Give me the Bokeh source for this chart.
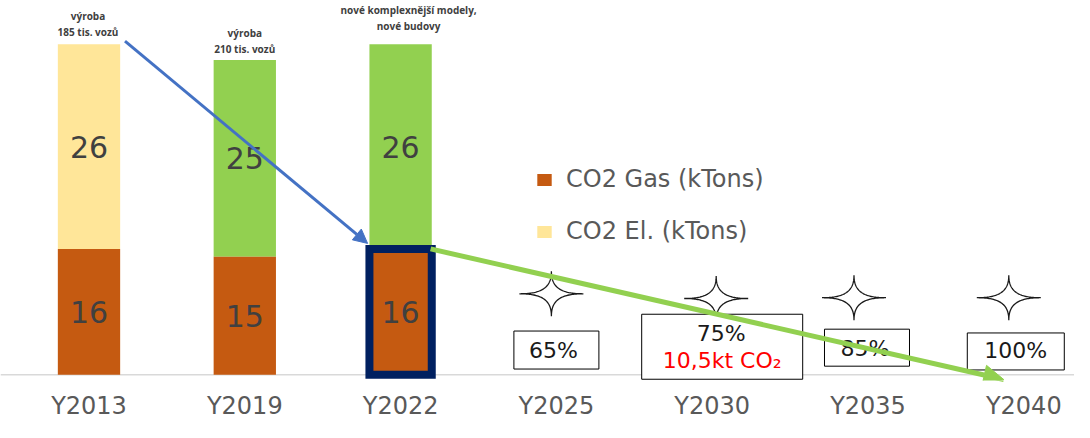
import numpy as np
from bokeh.plotting import figure
from bokeh.models import (Range1d, FixedTicker, ColumnDataSource, Legend, LegendItem,
                          Arrow, NormalHead, Span)
from bokeh.core.properties import value
from bokeh.embed import file_html
from bokeh.resources import INLINE

# ---------------- data ----------------
categories = ["Y2013", "Y2019", "Y2022", "Y2025", "Y2030", "Y2035", "Y2040"]
bar_years = ["Y2013", "Y2019", "Y2022"]
co2_gas = [16, 15, 16]
co2_el = [26, 25, 26]
el_colors = ["#FFE699", "#92D050", "#92D050"]
bar_notes = ["výroba\n185 tis. vozů", "výroba\n210 tis. vozů",
             "nové komplexnější modely,\nnové budovy"]
target_years = ["Y2025", "Y2030", "Y2035", "Y2040"]
target_pct = ["65%", "75%", "85%", "100%"]
target_2030_co2 = "10,5kt CO₂"
highlight_year = "Y2022"

# ---------------- geometry helpers ----------------
W, H = 1074, 422
BOTTOM = 41
FRAME_H = H - BOTTOM
PX_X = 155.8          # pixels per category step
PX_Y = 7.89           # pixels per kt
X0 = -0.568
Y0 = -0.72
x_range = Range1d(X0, X0 + W / PX_X)
y_range = Range1d(Y0, Y0 + FRAME_H / PX_Y)

def dx(px):
    return px / PX_X

def dy(px):
    return px / PX_Y

p = figure(width=W, height=H, x_range=x_range, y_range=y_range,
           output_backend="svg", toolbar_location=None, y_axis_location=None,
           min_border_left=0, min_border_right=0, min_border_top=0,
           min_border_bottom=BOTTOM, outline_line_color=None,
           background_fill_color="white", border_fill_color="white")
p.xgrid.visible = False
p.ygrid.visible = False

FONT_NAME = "DejaVu Sans"
FONT = value(FONT_NAME)

# baseline
p.add_layout(Span(location=0, dimension="width", line_color="#D9D9D9",
                  line_width=1.5, level="underlay"))

# ---------------- bars ----------------
bx = [categories.index(c) for c in bar_years]
totals = [g + e for g, e in zip(co2_gas, co2_el)]
src = ColumnDataSource(dict(
    x=bx, gas=co2_gas, el=co2_el, total=totals, el_color=el_colors,
    gas_mid=[g / 2 for g in co2_gas],
    el_mid=[g + e / 2 for g, e in zip(co2_gas, co2_el)],
    gas_txt=[str(g) for g in co2_gas], el_txt=[str(e) for e in co2_el],
    note=bar_notes,
    note_dx=[-1, 0, 8], note_dy=[-5, -4, -11],
))

el_r = p.vbar(x="x", width=0.4, bottom="gas", top="total", source=src,
              fill_color="el_color", line_color=None)
gas_r = p.vbar(x="x", width=0.4, bottom=0, top="gas", source=src,
               fill_color="#C55A11", line_color=None)

hi = bar_years.index(highlight_year)
p.vbar(x=[bx[hi]], width=0.4, bottom=[0], top=[co2_gas[hi]],
       fill_alpha=0, line_color="#002060", line_width=8, line_join="miter")

p.text(x="x", y="gas_mid", text="gas_txt", source=src, text_align="center",
       text_baseline="middle", text_font=FONT, text_font_size="30px",
       text_color="#404040")
p.text(x="x", y="el_mid", text="el_txt", source=src, text_align="center",
       text_baseline="middle", text_font=FONT, text_font_size="30px",
       text_color="#404040")
p.text(x="x", y="total", text="note", source=src, x_offset="note_dx",
       y_offset="note_dy", text_align="center", text_baseline="bottom",
       text_font=value("Open Sans"), text_font_style="bold",
       text_font_size="10px", text_color="#404040", text_line_height=1.15)

# ---------------- targets (stars + boxes) ----------------
tx = [categories.index(c) for c in target_years]
star_off = [(-5, 10.3), (4, 9.7), (-14, 9.8), (-15, 9.8)]

def star(cx, cy, rx, ry, n=60):
    t = np.linspace(0, 2 * np.pi, 4 * n, endpoint=False)
    c, s = np.cos(t), np.sin(t)
    e = 4.2
    xs = cx + dx(rx * np.sign(c) * np.abs(c) ** e)
    ys = cy + dy(ry * np.sign(s) * np.abs(s) ** e)
    return list(xs), list(ys)

sxs, sys_ = [], []
for x, (ox, oy) in zip(tx, star_off):
    a, b = star(x + dx(ox), oy, 32, 22.5)
    sxs.append(a)
    sys_.append(b)
p.patches(sxs, sys_, fill_color="white", line_color="#1a1a1a", line_width=1.3)

# boxes: (x offset px, y center kt, width px, height px)
box_geo = [(0, 3.15, 85, 38), (10, 3.57, 161, 65), (-1, 3.45, 85, 37), (-8, 2.97, 97, 37)]
p.rect(x=[x + dx(g[0]) for x, g in zip(tx, box_geo)], y=[g[1] for g in box_geo],
       width=[g[2] for g in box_geo], height=[g[3] for g in box_geo],
       width_units="screen", height_units="screen",
       fill_color="white", line_color="black", line_width=1)

pct_y = [3.15, 5.2, 3.39, 3.03]
pct_dx = [-3, 9, -3, -8]
p.text(x=[x + dx(o) for x, o in zip(tx, pct_dx)], y=pct_y, text=target_pct,
       text_align="center", text_baseline="middle", text_font=FONT,
       text_font_size="22px", text_color="#1a1a1a")
i30 = target_years.index("Y2030")
p.text(x=[tx[i30] + dx(10)], y=[1.82], text=[target_2030_co2],
       text_align="center", text_baseline="middle", text_font=FONT,
       text_font_size="22px", text_color="#FF0000")

# ---------------- arrows ----------------
p.add_layout(Arrow(end=NormalHead(size=14, fill_color="#4472C4", line_color="#4472C4"),
                   x_start=bx[0] + dx(36), y_start=totals[0] + 0.4,
                   x_end=bx[hi] - dx(33), y_end=co2_gas[hi] + 0.7,
                   line_color="#4472C4", line_width=3))
p.add_layout(Arrow(end=NormalHead(size=20, fill_color="#92D050", line_color="#92D050"),
                   x_start=bx[hi] + dx(30), y_start=co2_gas[hi],
                   x_end=categories.index("Y2040") - dx(20), y_end=-0.6,
                   line_color="#92D050", line_width=5))

# ---------------- legend ----------------
legend = Legend(items=[LegendItem(label="CO2 Gas (kTons)", renderers=[gas_r], index=0),
                       LegendItem(label="CO2 El. (kTons)", renderers=[el_r], index=0)],
                location=(535, 135), orientation="vertical",
                glyph_width=18, glyph_height=15, label_standoff=13, spacing=24,
                padding=0, margin=0, border_line_alpha=0, background_fill_alpha=0,
                label_text_font=FONT_NAME, label_text_font_size="24px",
                label_text_color="#595959")
p.add_layout(legend)

# ---------------- axis ----------------
ax = p.xaxis[0]
ax.ticker = FixedTicker(ticks=list(range(len(categories))))
ax.major_label_overrides = {i: c for i, c in enumerate(categories)}
ax.axis_line_color = None
ax.major_tick_line_color = None
ax.minor_tick_line_color = None
ax.major_label_standoff = 5
ax.major_label_text_font = FONT_NAME
ax.major_label_text_font_size = "24px"
ax.major_label_text_color = "#595959"

open("out.html", "w").write(file_html(p, INLINE))
